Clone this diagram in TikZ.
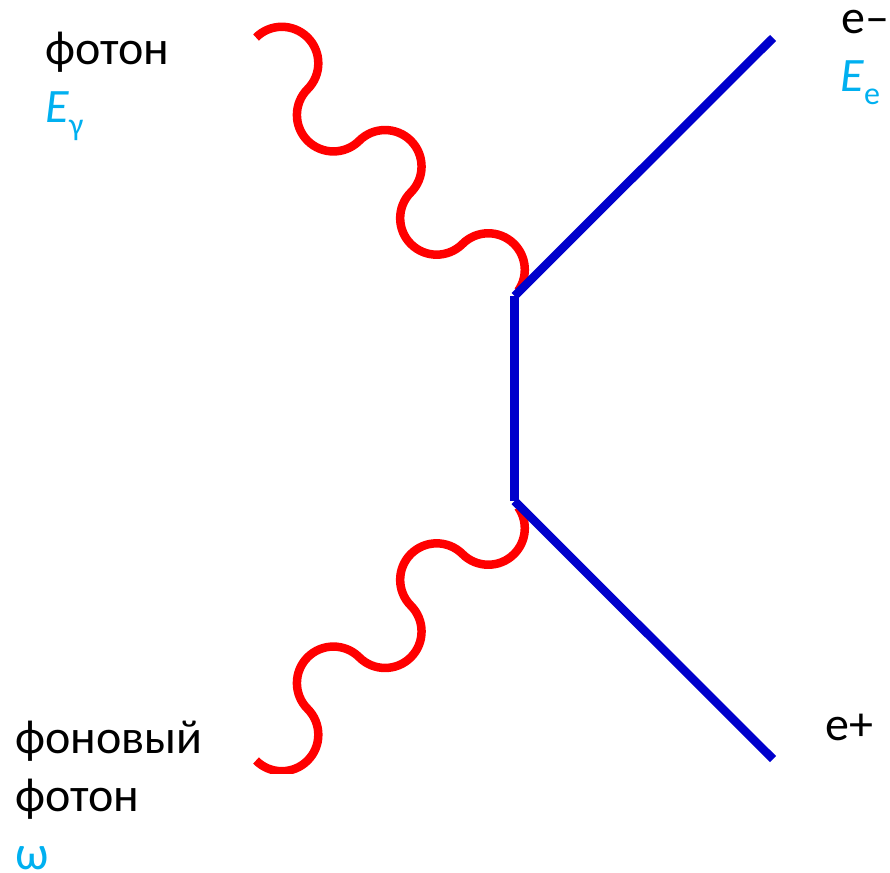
\documentclass[tikz,border=0pt]{standalone}
\usepackage{fontspec}
\setmainfont{Carlito}
\definecolor{wavered}{RGB}{255,0,0}
\definecolor{lineblue}{RGB}{0,0,204}
\definecolor{labelcyan}{RGB}{0,176,240}
\tikzset{
  wave/.style={draw=wavered,line width=8.5pt,line join=round},
  fermion/.style={draw=lineblue,line width=8.5pt},
  lbl/.style={anchor=base west,inner sep=0pt,font=\fontsize{48pt}{50pt}\selectfont},
  swing/.style={start angle=135,end angle=-45,radius=36.5pt},
  sway/.style={start angle=135,end angle=315,radius=36.5pt},
}
\newcommand{\subtext}[1]{\raisebox{-13pt}{\fontsize{32pt}{32pt}\selectfont #1}}
\begin{document}
\begin{tikzpicture}[x=1pt,y=-1pt]
\useasboundingbox (0,0) rectangle (890,872);
\coordinate (v1) at (514.5,296);
\coordinate (v2) at (514.5,501);
\coordinate (eminus) at (773,38);
\coordinate (eplus) at (773,759);
\coordinate (w1) at (256,37.5);
\coordinate (w2) at (256,760.5);
\draw[wave] (w1) arc[swing] arc[sway] arc[swing] arc[sway] arc[start angle=135,end angle=-35,radius=36.5pt];
\begin{scope}
\clip (200,480) rectangle (560,773);
\draw[wave] (w2) arc[start angle=225,end angle=405,radius=36.5pt] arc[start angle=225,end angle=45,radius=36.5pt] arc[start angle=225,end angle=405,radius=36.5pt] arc[start angle=225,end angle=45,radius=36.5pt] arc[start angle=225,end angle=395,radius=36.5pt];
\end{scope}
\draw[fermion] (eminus) -- (v1);
\draw[fermion] (v1) -- (v2);
\draw[fermion] (v2) -- (eplus);
\node[lbl] (t1) at (45,65) {фотон};
\node[lbl,text=labelcyan] (t2) at (45,122) {\textit{E}\subtext{γ}};
\node[lbl] (t3) at (841,34) {e–};
\node[lbl,text=labelcyan] (t4) at (840,92) {\textit{E}\subtext{e}};
\node[lbl] (t5) at (825,740) {e+};
\node[lbl] (t6) at (15,753) {фоновый};
\node[lbl] (t7) at (15,811) {фотон};
\node[lbl,text=labelcyan] (t8) at (15,869) {ω};
\end{tikzpicture}
\end{document}
